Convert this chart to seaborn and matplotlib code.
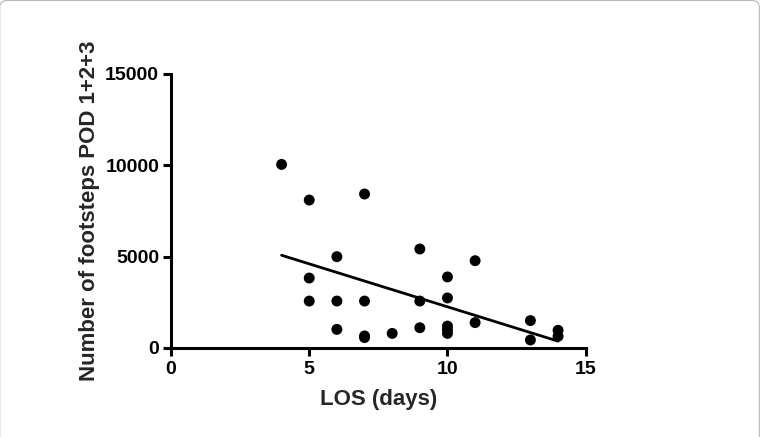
import matplotlib
matplotlib.use("Agg")
import matplotlib.pyplot as plt
import seaborn as sns
import pandas as pd
from matplotlib.patches import FancyBboxPatch

# Data
los_days = [4, 5, 5, 5, 6, 6, 6, 7, 7, 7, 7, 8, 9, 9, 9,
            10, 10, 10, 10, 10, 11, 11, 13, 13, 14, 14]
footsteps = [10050, 8100, 3830, 2570, 5000, 2570, 1020, 8430, 2570, 660, 570,
             800, 5420, 2570, 1110, 3890, 2740, 1200, 1000, 800, 4780, 1390,
             1500, 440, 970, 640]
x_ticks = [0, 5, 10, 15]
y_ticks = [0, 5000, 10000, 15000]

df = pd.DataFrame({"LOS": los_days, "Steps": footsteps})

sns.set_style("ticks")
plt.rcParams['font.family'] = ['Liberation Sans', 'DejaVu Sans']
plt.rcParams['font.weight'] = 'bold'

W, H = 761, 437
fig = plt.figure(figsize=(W / 100, H / 100), dpi=100)
ax = fig.add_axes([171 / W, 1 - 348 / H, (585.7 - 171) / W, (348 - 74) / H])

sns.regplot(data=df, x="LOS", y="Steps", scatter=False, ci=None,
            truncate=True, color="black", line_kws={"linewidth": 2.0}, ax=ax)
sns.scatterplot(data=df, x="LOS", y="Steps", color="black", s=62,
                edgecolor="none", ax=ax, zorder=3)

ax.set_xlim(0, 15)
ax.set_ylim(0, 15000)
ax.set_xticks(x_ticks)
ax.set_yticks(y_ticks)
ax.set_xticklabels([str(t) for t in x_ticks], fontsize=14, fontweight='bold')
ax.set_yticklabels([str(t) for t in y_ticks], fontsize=14, fontweight='bold')

for side in ["top", "right"]:
    ax.spines[side].set_visible(False)
for side in ["left", "bottom"]:
    ax.spines[side].set_linewidth(2.2)
    ax.spines[side].set_color("black")
    ax.spines[side].set_zorder(4)

ax.tick_params(axis="x", which="major", bottom=True, top=False,
               direction="out", length=6, width=2.2, pad=3.5, colors="black")
ax.tick_params(axis="y", which="major", left=True, right=False,
               direction="out", length=6, width=2.2, pad=2.5, colors="black")

ax.set_xlabel("LOS (days)", fontsize=16, fontweight='bold', labelpad=8)
ax.set_ylabel("Number of footsteps POD 1+2+3", fontsize=16,
              fontweight='bold', labelpad=4)

# light rounded frame around the figure
frame = FancyBboxPatch((-0.3, -10), 759.6, 446.5,
                       boxstyle="round,pad=0,rounding_size=7",
                       linewidth=0.9, edgecolor="#bdbdbd", facecolor="none",
                       transform=None)
fig.add_artist(frame)

fig.savefig("out.png", dpi=100)
